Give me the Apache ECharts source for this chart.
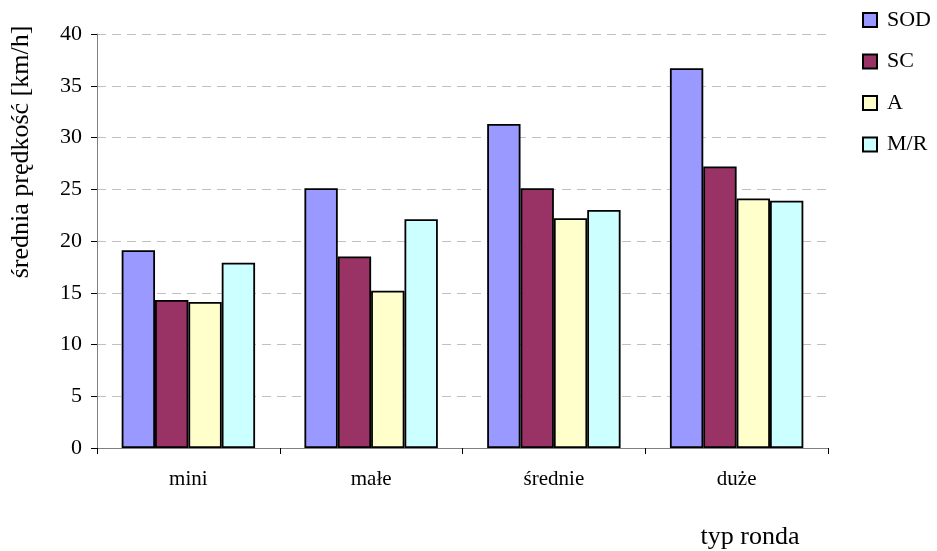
<!DOCTYPE html>
<html><head><meta charset="utf-8">
<script src="https://cdn.jsdelivr.net/npm/echarts@6/dist/echarts.min.js"></script>
<style>html,body{margin:0;padding:0;background:#fff}#c{width:937px;height:551px}</style>
</head><body><div id="c"></div>
<script>
const categories = ['mini', 'małe', 'średnie', 'duże'];
const seriesNames = ['SOD', 'SC', 'A', 'M/R'];
const SOD = [19.1, 25.1, 31.3, 36.7];
const SC = [14.3, 18.5, 25.1, 27.2];
const A = [14.1, 15.2, 22.2, 24.1];
const MR = [17.9, 22.1, 23.0, 23.9];
const colors = ['#9999FF', '#993366', '#FFFFCC', '#CCFFFF'];
const values = [SOD, SC, A, MR];

const font = 'Liberation Serif, Times New Roman, serif';
const chart = echarts.init(document.getElementById('c'));
chart.setOption({
  animation: false,
  textStyle: { fontFamily: font, color: '#000' },
  grid: { left: 97, right: 109, top: 34, bottom: 103, containLabel: false },
  legend: {
    orient: 'vertical', left: 857, top: 4, itemWidth: 14, itemHeight: 14, itemGap: 19.5,
    icon: 'rect',
    textStyle: { fontFamily: font, fontSize: 22, color: '#000', padding: [0,0,0,5] },
    data: seriesNames
  },
  xAxis: {
    type: 'category', data: categories,
    axisLine: { lineStyle: { color: '#808080', width: 1 } },
    axisTick: { show: true, alignWithLabel: false, length: 6, lineStyle: { color: '#000' } },
    axisLabel: { fontFamily: font, fontSize: 21, color: '#000', margin: 21 }
  },
  yAxis: {
    type: 'value', min: 0, max: 40, interval: 5,
    axisLine: { show: true, lineStyle: { color: '#808080' } },
    axisTick: { show: true, inside: false, length: 6, lineStyle: { color: '#000' } },
    axisLabel: { fontFamily: font, fontSize: 22, color: '#000', margin: 15 },
    splitLine: { lineStyle: { color: '#c0c0c0', type: [9, 6] } }
  },
  graphic: [
    { type: 'text', x: 750, y: 537, style: { text: 'typ ronda', font: '26px ' + font, fill: '#000', align: 'center', verticalAlign: 'middle' } },
    { type: 'text', x: 21, y: 152, rotation: Math.PI / 2,
      style: { text: 'średnia prędkość [km/h]', font: '26px ' + font, fill: '#000', align: 'center', verticalAlign: 'middle' } }
  ],
  series: seriesNames.map((n, i) => ({
    name: n, type: 'bar', data: values[i],
    barGap: '0%', barCategoryGap: '27%',
    itemStyle: { color: colors[i], borderColor: '#000', borderWidth: 1.8 }
  }))
});
</script></body></html>
